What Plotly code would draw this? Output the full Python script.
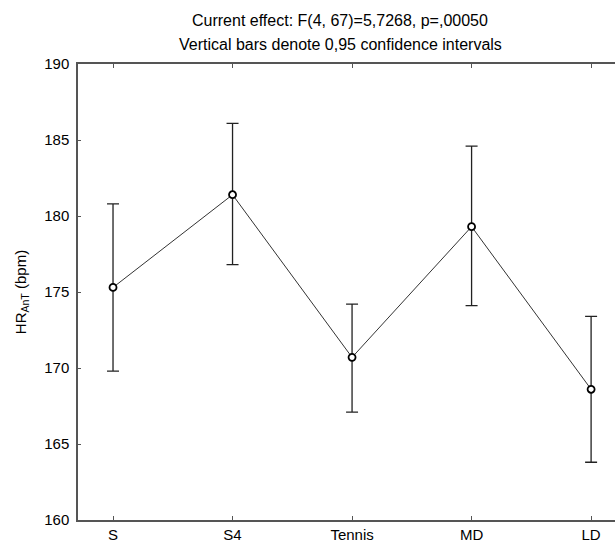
import plotly.graph_objects as go

categories = ["S", "S4", "Tennis", "MD", "LD"]
means = [175.3, 181.4, 170.7, 179.3, 168.6]
upper = [180.8, 186.1, 174.2, 184.6, 173.4]
lower = [169.8, 176.8, 167.1, 174.1, 163.8]
y_ticks = [160, 165, 170, 175, 180, 185, 190]
title_lines = ["Current effect: F(4, 67)=5,7268, p=,00050",
               "Vertical bars denote 0,95 confidence intervals"]

err_plus = [u - m for u, m in zip(upper, means)]
err_minus = [m - l for m, l in zip(means, lower)]
xpos = list(range(len(categories)))

fig = go.Figure()
fig.add_trace(go.Scatter(
    x=xpos, y=means,
    mode="lines+markers",
    line=dict(color="#333333", width=1),
    marker=dict(symbol="circle", size=7, color="white", line=dict(width=1.8, color="black")),
    error_y=dict(type="data", symmetric=False, array=err_plus, arrayminus=err_minus,
                 color="#222222", thickness=1.3, width=6),
    showlegend=False,
))

font_family = "Liberation Sans, Arial, sans-serif"
H = 542 - 64 - 22
for line, ypix in zip(title_lines, [21, 45]):
    fig.add_annotation(
        text=line, xref="paper", yref="paper",
        x=(340 - 78) / (615 - 78), y=1 + (64 - ypix) / H,
        xanchor="center", yanchor="middle", showarrow=False,
        font=dict(family=font_family, size=16, color="black"),
    )

fig.update_layout(
    width=615, height=542,
    margin=dict(l=78, r=0, t=64, b=22),
    paper_bgcolor="white", plot_bgcolor="white",
    font=dict(family=font_family, size=15, color="black"),
    xaxis=dict(
        range=[-0.293, 4.2], tickmode="array", tickvals=xpos, ticktext=categories,
        showline=True, linecolor="#555555", linewidth=1.5, mirror="ticks",
        ticks="inside", ticklen=4, tickcolor="#555555",
        showgrid=False, zeroline=False,
        tickfont=dict(size=15, family=font_family),
    ),
    yaxis=dict(
        range=[160, 190], tickmode="array", tickvals=y_ticks,
        showline=True, linecolor="#555555", linewidth=1.5,
        ticks="inside", ticklen=3, tickcolor="#555555",
        showgrid=False, zeroline=False, ticklabelstandoff=4,
        tickfont=dict(size=15, family=font_family),
        title=dict(text="HR<sub>AnT</sub> (bpm)", font=dict(size=15, family=font_family), standoff=14),
    ),
)

fig.write_html("out.html")
